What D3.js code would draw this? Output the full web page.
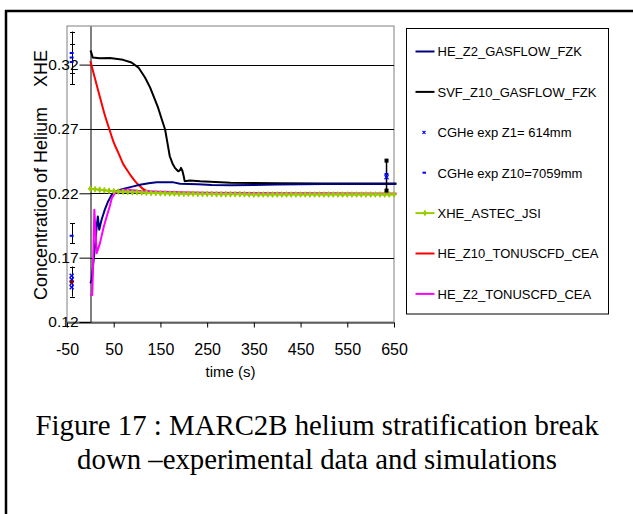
<!DOCTYPE html>
<html><head><meta charset="utf-8">
<script src="https://cdn.jsdelivr.net/npm/d3@7"></script>
<style>body{margin:0;background:#fff}svg{display:block}</style>
</head><body>
<script>
// ---- data ----
const xTicks = [-50, 50, 150, 250, 350, 450, 550, 650];
const yTicks = [0.12, 0.17, 0.22, 0.27, 0.32];

const heZ2Gasflow = [[0,0.150],[2.8,0.1527],[6.3,0.1657],[10,0.1787],[13.6,0.1943],[16,0.202],[19,0.1917],[24,0.1995],[31,0.2073],[38,0.2137],[46,0.219],[53,0.2215],[70,0.2234],[90,0.2252],[106,0.2267],[125,0.2278],[142,0.2285],[178,0.2285],[192,0.2275],[230,0.2270],[260,0.2265],[300,0.2262],[350,0.2265],[400,0.2268],[450,0.2270],[500,0.2272],[550,0.2272],[600,0.2273],[655,0.2273]];
const svfZ10Gasflow = [[0,0.331],[1.5,0.330],[5,0.3255],[20,0.325],[42,0.3252],[70,0.3237],[88,0.3216],[103,0.3177],[117,0.310],[128,0.3021],[138,0.293],[145,0.2865],[153,0.2774],[160,0.2696],[165,0.2592],[170,0.2488],[176,0.2430],[181,0.2398],[188,0.2371],[192,0.2380],[194,0.2398],[197,0.2375],[200,0.2330],[202,0.2293],[213,0.2299],[235,0.2293],[300,0.2282],[400,0.2279],[500,0.2277],[600,0.2277],[655,0.2277]];
const heZ10Tonus = [[0,0.3228],[10,0.309],[20,0.2955],[30,0.282],[42,0.2683],[50,0.2595],[60,0.2514],[70,0.243],[78,0.2384],[87,0.2335],[96,0.2293],[104,0.2262],[110,0.2242],[117,0.2225],[124,0.2215],[140,0.2205],[200,0.2203],[300,0.2200],[400,0.2198],[500,0.2198],[600,0.2197],[655,0.2197]];
const heZ2Tonus = [[0,0.141],[4,0.141],[5.5,0.160],[8.5,0.2073],[13.6,0.1735],[20.6,0.1813],[28,0.193],[35,0.202],[42,0.2105],[46,0.2164],[53,0.2203],[65,0.2222],[78,0.2229],[100,0.2220],[150,0.2213],[250,0.2205],[400,0.2200],[550,0.2198],[655,0.2197]];
const xheAstecT = [0,10,20,30,40,50,60,70,80,90,100,110,120,130,140,150,160,170,180,190,200,210,220,230,240,250,260,270,280,290,300,310,320,330,340,350,360,370,380,390,400,410,420,430,440,450,460,470,480,490,500,510,520,530,540,550,560,570,580,590,600,610,620,630,640,650];
const xheAstecV = [0.2236,0.2232,0.2228,0.2224,0.2220,0.2216,0.2214,0.2212,0.2210,0.2209,0.2208,0.2206,0.2204,0.2203,0.2202,0.2201,0.2200,0.2199,0.2198,0.2197,0.2197,0.2196,0.2196,0.2195,0.2195,0.2194,0.2194,0.2193,0.2193,0.2193,0.2192,0.2192,0.2192,0.2192,0.2191,0.2191,0.2191,0.2191,0.2191,0.2191,0.2190,0.2190,0.2190,0.2190,0.2190,0.2190,0.2190,0.2190,0.2190,0.2190,0.2190,0.2190,0.2190,0.2190,0.2190,0.2190,0.2190,0.2190,0.2190,0.2190,0.2190,0.2190,0.2190,0.2190,0.2190,0.2190];

// experimental points
const expZ1 = [[-40,0.156],[-40,0.153],[-40,0.150],[-40,0.147],[634,0.2325]];
const expZ10 = [[-40,0.329],[-40,0.3255],[-40,0.322],[-40,0.187],[634,0.2350]];
const expOther = [[-40,0.151]];
const errBars = [[-40,0.3047,0.3457],[-40,0.3132,0.3364],[-40,0.1813,0.1969],[-40,0.1397,0.1631]];
const errBarsSquare = [[634,0.2221,0.2454]];

const legendLabels = ["HE_Z2_GASFLOW_FZK","SVF_Z10_GASFLOW_FZK","CGHe exp Z1= 614mm","CGHe exp Z10=7059mm","XHE_ASTEC_JSI","HE_Z10_TONUSCFD_CEA","HE_Z2_TONUSCFD_CEA"];
const legendTypes = ["line","line","x","dash","linemarker","line","line"];
const colors = ["#000080","#000000","#0000ff","#0000ff","#99cc00","#ff0000","#ff00ff"];

const yTitle1 = "Concentration of Helium";
const yTitle2 = "XHE";
const xTitle = "time (s)";
const caption = ["Figure 17 : MARC2B helium stratification break","down \u2013experimental data and simulations"];

// ---- drawing ----
const W = 633, H = 514;
const svg = d3.select("body").append("svg").attr("width", W).attr("height", H);
const sans = "'Liberation Sans', Arial, sans-serif";

// page borders
svg.append("line").attr("x1",5).attr("x2",633).attr("y1",11).attr("y2",11).attr("stroke","#000").attr("stroke-width",2.5);
svg.append("line").attr("x1",6).attr("x2",6).attr("y1",10).attr("y2",514).attr("stroke","#000").attr("stroke-width",2.5);

const x = d3.scaleLinear().domain([-50, 650]).range([67, 394]);
const y = d3.scaleLinear().domain([0.12, 0.35]).range([322, 26]);

// plot border
svg.append("rect").attr("x",x(-50)).attr("y",y(0.35)).attr("width",x(650)-x(-50)).attr("height",y(0.12)-y(0.35))
  .attr("fill","none").attr("stroke","#808080").attr("stroke-width",1);

// gridlines
svg.append("g").selectAll("line").data(yTicks.filter(d => d > 0.12)).join("line")
  .attr("x1", x(0)).attr("x2", x(650)).attr("y1", d => Math.round(y(d))+0.5).attr("y2", d => Math.round(y(d))+0.5)
  .attr("stroke","#000").attr("stroke-width",1);

// y axis at x=0
const yAxis = svg.append("g").attr("transform",`translate(${Math.round(x(0))+0.5},0)`)
  .call(d3.axisLeft(y).tickValues(yTicks).tickSize(11).tickSizeOuter(0).tickPadding(1).tickFormat(d3.format(".2f")));
yAxis.select(".domain").attr("stroke","#000");
yAxis.selectAll(".tick line").attr("stroke","#000");
yAxis.selectAll("text").attr("font-family",sans).attr("font-size",15.5).attr("fill","#000");

// x axis
const xAxis = svg.append("g").attr("transform",`translate(0,${Math.round(y(0.12))+0.5})`)
  .call(d3.axisBottom(x).tickValues(xTicks).tickSize(5).tickSizeOuter(0).tickPadding(16).tickFormat(d => String(d)));
xAxis.select(".domain").attr("stroke","#000");
xAxis.selectAll(".tick line").attr("stroke","#000");
xAxis.selectAll("text").attr("font-family",sans).attr("font-size",16).attr("fill","#000");

// titles
svg.append("text").attr("transform","translate(47,300) rotate(-90)").attr("text-anchor","start")
  .attr("font-family",sans).attr("font-size",18).text(yTitle1);
svg.append("text").attr("transform","translate(47,50) rotate(-90)").attr("text-anchor","end")
  .attr("font-family",sans).attr("font-size",18).text(yTitle2);
svg.append("text").attr("x",(x(-50)+x(650))/2).attr("y",377).attr("text-anchor","middle")
  .attr("font-family",sans).attr("font-size",15).text(xTitle);

// series
const line = d3.line().x(d => x(d[0])).y(d => y(d[1]));
const smooth = d3.line().x(d => x(d[0])).y(d => y(d[1])).curve(d3.curveMonotoneX);
const astec = xheAstecT.map((t,i) => [t, xheAstecV[i]]);

svg.append("path").datum(heZ10Tonus).attr("d",smooth).attr("fill","none").attr("stroke",colors[5]).attr("stroke-width",2);
svg.append("path").datum(svfZ10Gasflow).attr("d",line).attr("fill","none").attr("stroke",colors[1]).attr("stroke-width",2).attr("stroke-linejoin","round");
svg.append("path").datum(heZ2Gasflow).attr("d",line).attr("fill","none").attr("stroke",colors[0]).attr("stroke-width",2).attr("stroke-linejoin","round");
svg.append("path").datum(heZ2Tonus).attr("d",line).attr("fill","none").attr("stroke",colors[6]).attr("stroke-width",2).attr("stroke-linejoin","round");
svg.append("path").datum(astec).attr("d",line).attr("fill","none").attr("stroke",colors[4]).attr("stroke-width",2);
const mk = svg.append("g").selectAll("g").data(astec).join("g")
  .attr("transform", d => `translate(${x(d[0])},${y(d[1])})`);
mk.append("path").attr("d", d3.symbol(d3.symbolDiamond, 14)).attr("fill",colors[4]);
mk.append("path").attr("d","M-2.5,0H2.5M0,-2.5V2.5").attr("stroke",colors[4]).attr("stroke-width",1.5);

// error bars
const eb = svg.append("g").attr("stroke","#000").attr("stroke-width",1);
errBars.forEach(d => {
  const cx = Math.round(x(d[0]))+0.5;
  eb.append("line").attr("x1",cx).attr("x2",cx).attr("y1",y(d[1])).attr("y2",y(d[2]));
  eb.append("line").attr("x1",cx-2.5).attr("x2",cx+2.5).attr("y1",Math.round(y(d[1]))+0.5).attr("y2",Math.round(y(d[1]))+0.5);
  eb.append("line").attr("x1",cx-2.5).attr("x2",cx+2.5).attr("y1",Math.round(y(d[2]))+0.5).attr("y2",Math.round(y(d[2]))+0.5);
});
errBarsSquare.forEach(d => {
  const cx = x(d[0]);
  eb.append("line").attr("x1",cx).attr("x2",cx).attr("y1",y(d[1])).attr("y2",y(d[2])).attr("stroke-width",1.5);
  [d[1],d[2]].forEach(v => svg.append("rect").attr("x",cx-2).attr("y",y(v)-2).attr("width",4).attr("height",4).attr("fill","#000"));
});

// exp markers
svg.append("g").selectAll("path").data(expZ1).join("path")
  .attr("d", d => `M${x(d[0])-2},${y(d[1])-2}L${x(d[0])+2},${y(d[1])+2}M${x(d[0])-2},${y(d[1])+2}L${x(d[0])+2},${y(d[1])-2}`)
  .attr("stroke",colors[2]).attr("stroke-width",1.3);
svg.append("g").selectAll("line").data(expZ10).join("line")
  .attr("x1", d => x(d[0])-2).attr("x2", d => x(d[0])+2).attr("y1", d => y(d[1])).attr("y2", d => y(d[1]))
  .attr("stroke",colors[3]).attr("stroke-width",2);
svg.append("g").selectAll("circle").data(expOther).join("circle")
  .attr("cx", d => x(d[0])).attr("cy", d => y(d[1])).attr("r",2).attr("fill","#800000");

// legend
svg.append("rect").attr("x",406.5).attr("y",28.5).attr("width",202).attr("height",285.5)
  .attr("fill","#fff").attr("stroke","#000").attr("stroke-width",1);
const lg = svg.append("g").selectAll("g").data(legendLabels).join("g")
  .attr("transform",(d,i) => `translate(0,${51.5 + i*40.4})`);
lg.each(function(d,i){
  const g = d3.select(this), t = legendTypes[i], c = colors[i];
  if (t === "line" || t === "linemarker") {
    g.append("line").attr("x1",415.5).attr("x2",434.5).attr("y1",0).attr("y2",0).attr("stroke",c).attr("stroke-width",2);
    if (t === "linemarker") g.append("path").attr("transform","translate(425,0)").attr("d",d3.symbol(d3.symbolDiamond,14)).attr("fill",c);
  } else if (t === "x") {
    g.append("path").attr("d","M422.5,-1.5L425.5,1.5M422.5,1.5L425.5,-1.5").attr("stroke",c).attr("stroke-width",1.2);
  } else {
    g.append("line").attr("x1",422.5).attr("x2",426).attr("y1",0).attr("y2",0).attr("stroke",c).attr("stroke-width",2);
  }
  g.append("text").attr("x",437.5).attr("y",4.8).attr("font-family",sans).attr("font-size",13).attr("fill","#000").text(d);
});

// caption
svg.append("g").selectAll("text").data(caption).join("text")
  .attr("x",317).attr("y",(d,i) => 435 + i*34).attr("text-anchor","middle")
  .attr("font-family","'Liberation Serif', 'Times New Roman', serif").attr("font-size",28.8).attr("fill","#000").text(d => d);
</script>
</body></html>
